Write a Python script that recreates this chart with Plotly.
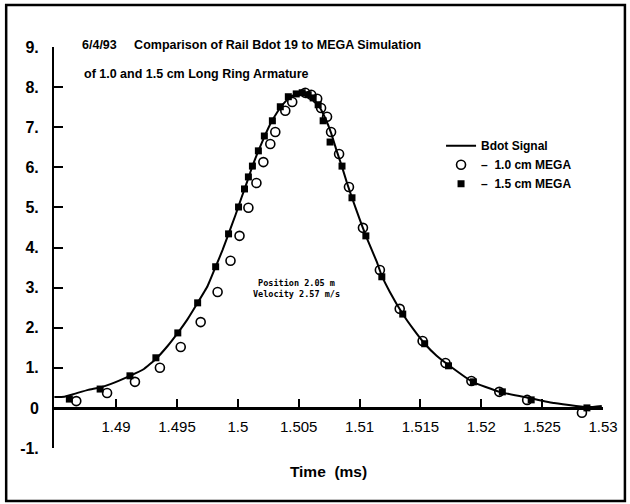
import plotly.graph_objects as go

# Bdot signal (measured curve)
bdot_t = [1.48493, 1.48575, 1.48657, 1.48771, 1.48869, 1.48959, 1.49114, 1.49229, 1.49327, 1.49425,
          1.49507, 1.49589, 1.49670, 1.49752, 1.49818, 1.49875, 1.49924, 1.49981, 1.50030, 1.50079,
          1.50120, 1.50169, 1.50218, 1.50267, 1.50325, 1.50374, 1.50431, 1.50488, 1.50537, 1.50586,
          1.50627, 1.50676, 1.50725, 1.50766, 1.50807, 1.50856, 1.50897, 1.50938, 1.51003, 1.51052,
          1.51142, 1.51183, 1.51249, 1.51355, 1.51445, 1.51535, 1.51633, 1.51739, 1.51927, 1.52148,
          1.52393, 1.52598, 1.52778, 1.52884, 1.52990]
bdot_v = [0.27, 0.28, 0.35, 0.45, 0.51, 0.60, 0.80, 0.97, 1.22, 1.55,
          1.87, 2.22, 2.62, 3.04, 3.52, 3.94, 4.34, 4.81, 5.24, 5.66,
          6.03, 6.41, 6.76, 7.08, 7.38, 7.58, 7.76, 7.83, 7.83, 7.78,
          7.68, 7.48, 7.18, 6.86, 6.46, 6.01, 5.61, 5.24, 4.69, 4.29,
          3.64, 3.29, 2.89, 2.34, 1.95, 1.60, 1.30, 1.05, 0.65, 0.40,
          0.25, 0.12, 0.05, 0.02, 0.05]

# 1.0 cm MEGA simulation (open circles)
mega10_t = [1.48673, 1.48926, 1.49155, 1.49360, 1.49531, 1.49695, 1.49834, 1.49940, 1.50014, 1.50087,
            1.50153, 1.50210, 1.50267, 1.50308, 1.50390, 1.50447, 1.50554, 1.50603, 1.50652, 1.50684,
            1.50733, 1.50766, 1.50832, 1.50913, 1.51028, 1.51167, 1.51330, 1.51518, 1.51706, 1.51919,
            1.52148, 1.52377, 1.52827]
mega10_v = [0.17, 0.37, 0.65, 1.00, 1.52, 2.14, 2.89, 3.67, 4.29, 4.99,
            5.61, 6.13, 6.58, 6.88, 7.41, 7.63, 7.86, 7.81, 7.71, 7.48,
            7.26, 6.88, 6.33, 5.51, 4.49, 3.44, 2.47, 1.67, 1.12, 0.67,
            0.40, 0.20, -0.12]

# 1.5 cm MEGA simulation (filled squares)
mega15_t = [1.48616, 1.48869, 1.49114, 1.49327, 1.49507, 1.49670, 1.49818, 1.49924, 1.50006, 1.50055,
            1.50087, 1.50120, 1.50169, 1.50218, 1.50284, 1.50349, 1.50415, 1.50480, 1.50529, 1.50578,
            1.50619, 1.50660, 1.50701, 1.50758, 1.50856, 1.50938, 1.51052, 1.51183, 1.51355, 1.51535,
            1.51731, 1.51935, 1.52173, 1.52410, 1.52868]
mega15_v = [0.22, 0.47, 0.80, 1.25, 1.87, 2.62, 3.52, 4.34, 5.01, 5.46,
            5.76, 6.03, 6.41, 6.78, 7.16, 7.51, 7.76, 7.83, 7.86, 7.81,
            7.73, 7.56, 7.16, 6.63, 6.03, 5.24, 4.29, 3.27, 2.34, 1.60,
            1.05, 0.65, 0.40, 0.20, 0.00]

x_ticks = [1.49, 1.495, 1.5, 1.505, 1.51, 1.515, 1.52, 1.525, 1.53]
x_ticktext = ["1.49", "1.495", "1.5", "1.505", "1.51", "1.515", "1.52", "1.525", "1.53"]
y_ticks = [-1, 0, 1, 2, 3, 4, 5, 6, 7, 8, 9]
y_ticktext = ["<b>-1.</b>", "<b>0</b>", "<b>1.</b>", "<b>2.</b>", "<b>3.</b>", "<b>4.</b>",
              "<b>5.</b>", "<b>6.</b>", "<b>7.</b>", "<b>8.</b>", "<b>9.</b>"]

FONT = "Liberation Sans, Arial, sans-serif"

fig = go.Figure()
fig.add_trace(go.Scatter(x=bdot_t, y=bdot_v, mode="lines", name="<b>Bdot Signal</b>",
                         line=dict(color="black", width=2, shape="spline", smoothing=0.3)))
fig.add_trace(go.Scatter(x=mega10_t, y=mega10_v, mode="markers", name="<b>\u2013  1.0 cm MEGA</b>",
                         marker=dict(symbol="circle-open", size=9, color="black",
                                     line=dict(width=1.6, color="black"))))
fig.add_trace(go.Scatter(x=mega15_t, y=mega15_v, mode="markers", name="<b>\u2013  1.5 cm MEGA</b>",
                         marker=dict(symbol="square", size=7, color="black")))

fig.update_layout(
    width=630, height=504,
    margin=dict(l=54, r=25, t=47, b=56),
    paper_bgcolor="white", plot_bgcolor="white",
    font=dict(family=FONT, color="black", size=13),
    title=dict(text="<b>6/4/93     Comparison of Rail Bdot 19 to MEGA Simulation</b>",
               x=82 / 630, y=1 - 40 / 504, xanchor="left", yanchor="top",
               font=dict(size=12.5, family=FONT, color="black")),
    xaxis=dict(range=[1.4849, 1.5300], anchor="free", position=0.1,
               showline=True, linecolor="black", linewidth=3,
               ticks="inside", ticklen=8, tickwidth=1.5, tickcolor="black",
               tickvals=x_ticks, ticktext=x_ticktext, ticklabelstandoff=4,
               tickfont=dict(size=15, family=FONT),
               showgrid=False, zeroline=False,
               title=dict(text="<b>Time  (ms)</b>", font=dict(size=15.5, family=FONT), standoff=32)),
    yaxis=dict(range=[-1, 9], showline=True, linecolor="black", linewidth=2,
               ticks="inside", ticklen=9, tickwidth=1.5, tickcolor="black",
               tickvals=y_ticks, ticktext=y_ticktext, ticklabelstandoff=10,
               tickfont=dict(size=16, family=FONT),
               showgrid=False, zeroline=False),
    legend=dict(x=0.705, y=0.79, xanchor="left", yanchor="top",
                bgcolor="rgba(0,0,0,0)", borderwidth=0,
                font=dict(size=12, family=FONT), itemwidth=30, tracegroupgap=0),
    showlegend=True,
)

fig.add_annotation(text="<b>of 1.0 and 1.5 cm Long Ring Armature</b>", xref="paper", yref="paper",
                   x=(82 - 54) / 551, y=(448 - 65) / 401, xanchor="left", yanchor="top",
                   showarrow=False, font=dict(size=12.5, family=FONT))
fig.add_annotation(text="<b>Position 2.05 m<br>Velocity 2.57 m/s</b>", xref="paper", yref="paper",
                   x=(297 - 54) / 551, y=(448 - 288) / 401, xanchor="center", yanchor="middle",
                   showarrow=False, align="center",
                   font=dict(size=8.5, family="DejaVu Sans Mono, monospace"))

# outer frame around the whole figure
fig.add_shape(type="rect", xref="paper", yref="paper",
              x0=(6 - 54) / 551, x1=(627 - 54) / 551,
              y0=(448 - 501) / 401, y1=(448 - 5) / 401,
              line=dict(color="black", width=2.5))

fig.write_html("out.html")
